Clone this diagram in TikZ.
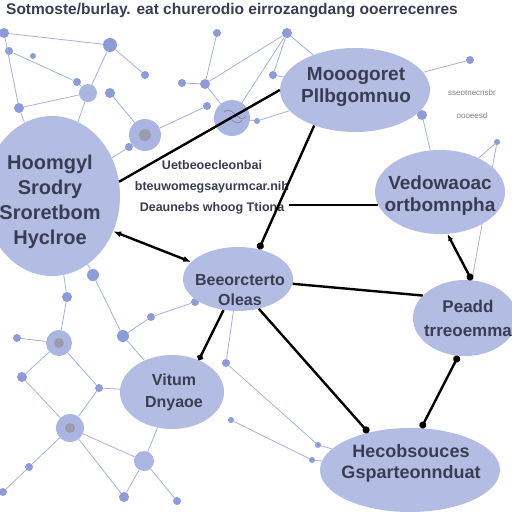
\documentclass[tikz,border=0pt]{standalone}
\usepackage{fontspec}
\setmainfont{Liberation Sans}
\usetikzlibrary{arrows.meta,shapes.geometric}
\definecolor{blob}{HTML}{B3BDE4}
\definecolor{dotblue}{HTML}{8D9CD9}
\definecolor{halo}{HTML}{AAB5E2}
\definecolor{wirecol}{HTML}{A7B1DC}
\definecolor{ink}{HTML}{3A3D52}
\definecolor{core}{HTML}{9A9CAA}
\pgfdeclarelayer{back}
\pgfsetlayers{back,main}

\begin{document}
\begin{tikzpicture}[x=1pt,y=-1pt,
    topic/.style={ellipse,fill=blob,inner sep=0pt},
    tlabel/.style={align=center,text=ink,inner sep=0pt,font=\bfseries\fontsize{19}{22}\selectfont},
    note/.style={align=center,text=ink,inner sep=0pt},
    link/.style={line width=2.4pt,black},
    web/.style={draw=wirecol,line width=0.8pt},
    dot/.style={circle,fill=dotblue,inner sep=0pt},
    halodot/.style={circle,fill=halo,inner sep=0pt}
]
    \useasboundingbox (0,0) rectangle (512,512);
    \clip (0,0) rectangle (512,512);

    % topics
    \node[topic,minimum width=136,minimum height=160] (hub) at (52,196) {};
    \node[topic,minimum width=150,minimum height=84] (mgmt) at (355,90) {};
    \node[topic,minimum width=130,minimum height=84] (vend) at (440,192) {};
    \node[topic,minimum width=110,minimum height=64] (core) at (238,279) {};
    \node[topic,minimum width=104,minimum height=76] (peak) at (465,318) {};
    \node[topic,minimum width=104,minimum height=74] (dyn) at (172,392) {};
    \node[topic,minimum width=180,minimum height=84] (res) at (410,470) {};

    \node[tlabel,font=\bfseries\fontsize{20}{25}\selectfont] (hub-t) at (50,202) {Hoomgyl\\Srodry\\Sroretbom\\Hyclroe};
    \node[tlabel] (mgmt-t) at (356,87) {Mooogoret\\Pllbgomnuo};
    \node[tlabel] (vend-t) at (440,196) {Vedowaoac\\ortbomnpha};
    \node[tlabel,font=\bfseries\fontsize{16}{20}\selectfont] (core-t) at (240,290) {Beeorcterto\\Oleas};
    \node[tlabel,font=\bfseries\fontsize{17}{24}\selectfont] (peak-t) at (468,318) {Peadd\\trreoemma};
    \node[tlabel,font=\bfseries\fontsize{16}{22}\selectfont] (dyn-t) at (174,392) {Vitum\\Dnyaoe};
    \node[tlabel,font=\bfseries\fontsize{18}{21}\selectfont] (res-t) at (411,463) {Hecobsouces\\Gsparteonnduat};

    % texts
    \node[note,font=\bfseries\fontsize{15.5}{17}\selectfont] (title) at (232,11) {Sotmoste/burlay. eat churerodio eirrozangdang ooerrecenres};
    \node[note,font=\bfseries\fontsize{12.5}{21}\selectfont] (desc) at (212,187) {Uetbeoecleonbai\\bteuwomegsayurmcar.nih\\Deaunebs whoog Ttiona};
    \node[note,text=gray,font=\fontsize{8}{23}\selectfont] (side) at (472,104) {sseotnecnsbr\\oooeesd};

    % links
    \draw[link] (hub.12) -- (mgmt.180);
    \draw[link,{Latex[length=8pt]}-{Latex[length=8pt]}] (hub.-30) -- (core.160);
    \draw[link,{Circle[length=7pt]}-] (core.55) -- (mgmt.-139);
    \draw[link] (desc.south east |- vend.192) -- (vend.192);
    \draw[link] (core.-5) -- (peak.152);
    \draw[link,{Latex[length=7pt]}-{Circle[length=7pt]}] (vend.-80) -- (peak.80);
    \draw[link,-{Circle[length=6pt]}] (core.-115) -- (dyn.50);
    \draw[link,-{Circle[length=7pt]}] (core.-55) -- (res.138);
    \draw[link,{Circle[length=7pt]}-{Circle[length=7pt]}] (peak.-100) -- (res.75);

    % background network
    \begin{pgfonlayer}{back}
        \foreach \n/\x/\y/\r in {1/4/33/5,2/9/51/4,3/33/56/3,4/110/45/7,5/145/75/4,6/77/82/4,8/19/108/5,
            9/110/93/5,11/129/147/4,12/182/83/4,13/205/84/5,14/217/33/4,15/207/106/4,17/287/33/5,
            18/273/75/4,19/257/121/3,20/93/275/6,21/67/297/5,22/17/338/4,24/22/377/5,25/123/336/6,
            26/151/317/4,27/99/388/4,29/29/467/4,30/3/492/4,32/124/497/5,33/177/501/4,34/195/302/4,
            35/226/363/4,36/231/420/3,37/318/445/3,38/312/460/3,39/470/60/4,40/422/115/5,41/497/142/3}
            \node[dot,minimum size=2*\r] (d\n) at (\x,\y) {};
        \foreach \n/\x/\y/\r in {7/88/93/9,10/145/135/16,16/232/118/18,23/59/343/13,28/70/428/14,31/144/461/10}
            \node[halodot,minimum size=2*\r] (d\n) at (\x,\y) {};
        \foreach \n/\r in {10/6,23/5,28/5}
            \fill[core] (d\n) circle (\r pt);
        \draw[gray,line width=0.6pt] (224,112) .. controls (232,104) and (240,126) .. (246,116);
        \draw[gray,line width=0.6pt] (222,124) .. controls (230,110) and (236,130) .. (242,120);

        \foreach \a/\b in {d1/d4,d1/d8,d2/d6,d4/d5,d4/d7,d6/d7,d8/d7,d7/hub,d9/d10,d10/d15,d10/d11,d11/hub,
            d12/d13,d13/d14,d13/d17,d13/d16,d16/d17,d17/d18,d18/mgmt,d17/mgmt,d16/d19,d19/mgmt,d8/hub,
            d20/d25,d21/d23,d21/hub,d20/hub,d22/d23,d23/d24,d23/d27,d24/d28,d25/d26,d26/d34,d34/core,
            d25/dyn,d27/d28,d27/dyn,d28/d31,d28/d32,d28/d29,d29/d30,d31/d32,d31/d33,d31/dyn,
            d35/d37,d36/d38,d35/core,d37/res,d38/res,d40/mgmt,d40/vend,d39/mgmt,d41/vend,d41/peak}
            \draw[web] (\a) -- (\b);
    \end{pgfonlayer}
\end{tikzpicture}
\end{document}
